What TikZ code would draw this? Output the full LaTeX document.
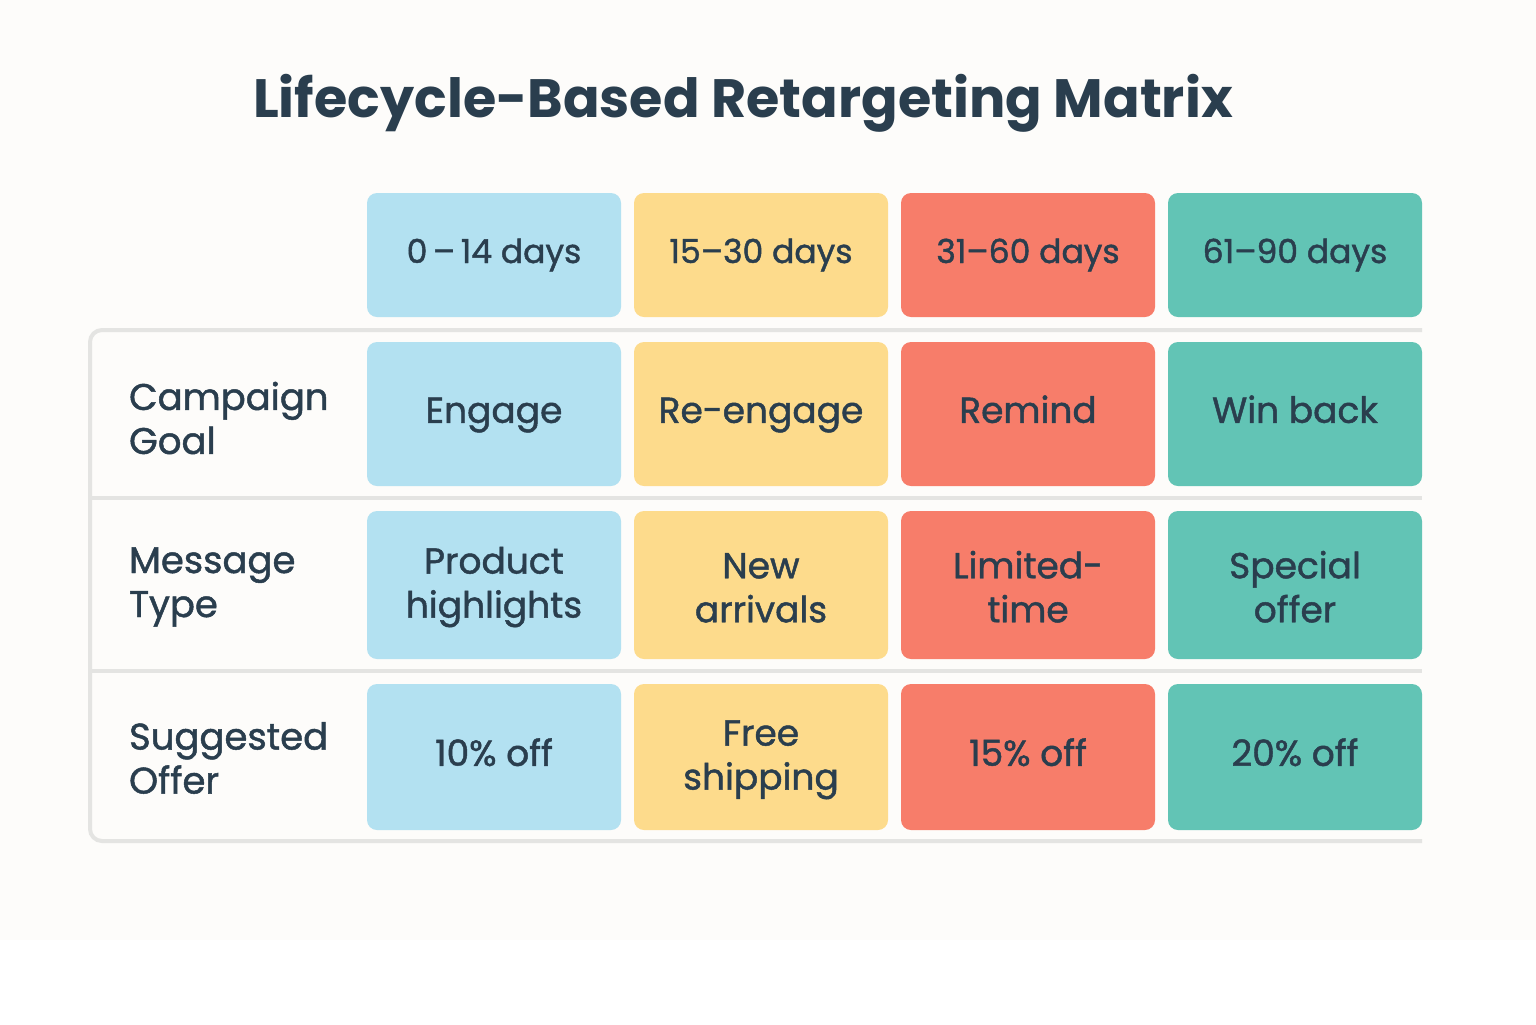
\documentclass[tikz,border=0pt]{standalone}
\usepackage{fontspec}
\setmainfont{Poppins}
\newfontfamily\medfont{Poppins}[FakeBold=1.3]
\usetikzlibrary{positioning}
\definecolor{ink}{HTML}{2A3E4E}
\definecolor{cblue}{HTML}{B3E1F1}
\definecolor{cyellow}{HTML}{FDDB8C}
\definecolor{cred}{HTML}{F77D6A}
\definecolor{cteal}{HTML}{62C4B5}
\definecolor{frame}{HTML}{E4E4E2}
\definecolor{paper}{HTML}{FDFCFA}
\begin{document}
\begin{tikzpicture}[
        x=0.5pt, y=-0.5pt,
        cell/.style={rectangle, rounded corners=5pt, minimum width=127pt, text=ink,
            align=center, font=\fontsize{18}{22}\selectfont\medfont},
        head/.style={cell, minimum height=62pt, font=\fontsize{16.5}{20}\selectfont\medfont},
        rowlabel/.style={anchor=west, align=left, text=ink, font=\fontsize{18.5}{22}\selectfont\medfont}
    ]
        \useasboundingbox (0,0) rectangle (1536,1024);
        \fill[white] (0,0) rectangle (1536,1024);
        \fill[paper] (0,0) rectangle (1536,940);

        % Title
        \node[text=ink, font=\fontsize{27}{32}\selectfont\bfseries] (title) at (743,103) {Lifecycle-Based Retargeting Matrix};

        % Table frame
        \draw[frame, line width=2pt, rounded corners=6pt] (1422,330) -- (90,330) -- (90,841) -- (1422,841);
        \draw[frame, line width=2pt] (90,498) -- (1422,498);
        \draw[frame, line width=2pt] (90,671) -- (1422,671);

        % Header cells
        \foreach \name/\col/\x/\txt in {a/cblue/494/0\,–\,14 days, b/cyellow/761/15–30 days, c/cred/1028/31–60 days, d/cteal/1295/61–90 days}
        {
            \node[head, fill=\col] (H-\name) at (\x,255) {\strut\txt};
        }

        % Row labels
        \node[rowlabel] (L-1) at (122,418) {Campaign\\Goal};
        \node[rowlabel] (L-2) at (122,587) {Message\\Type};
        \node[rowlabel] (L-3) at (122,758) {Suggested\\Offer};

        % Campaign goal
        \foreach \name/\col/\x/\txt in {a/cblue/494/Engage, b/cyellow/761/Re-engage, c/cred/1028/Remind, d/cteal/1295/Win back}
        {
            \node[cell, fill=\col, minimum height=72pt] (G-\name) at (\x,414) {\strut\txt};
        }

        % Message type
        \foreach \name/\col/\x/\txt in {a/cblue/494/Product\\highlights, b/cyellow/761/New\\arrivals, c/cred/1028/Limited-\\time, d/cteal/1295/Special\\offer}
        {
            \node[cell, fill=\col, minimum height=74pt] (M-\name) at (\x,585) {\strut\txt};
        }

        % Suggested offer
        \foreach \name/\col/\x/\txt in {a/cblue/494/10\% off, b/cyellow/761/Free\\shipping, c/cred/1028/15\% off, d/cteal/1295/20\% off}
        {
            \node[cell, fill=\col, minimum height=73pt] (O-\name) at (\x,757) {\strut\txt};
        }

\end{tikzpicture}
\end{document}
